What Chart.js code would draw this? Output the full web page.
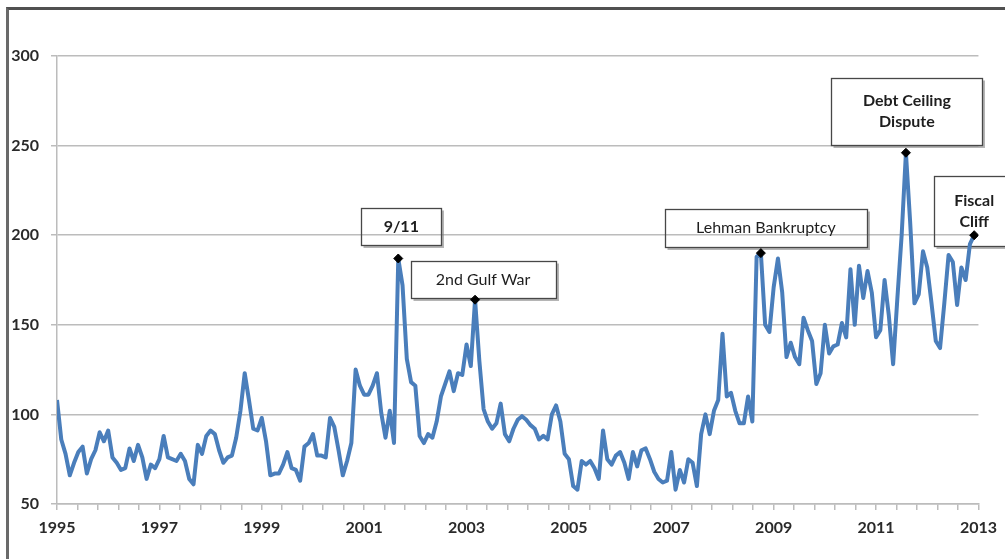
<!DOCTYPE html>
<html>
<head>
<meta charset="utf-8">
<script src="https://cdn.jsdelivr.net/npm/chart.js@4.4.1/dist/chart.umd.min.js"></script>
<style>
  html, body { margin: 0; padding: 0; background: #ffffff; }
  #wrap { position: relative; width: 1005px; height: 559px; overflow: hidden; }
  #frame {
    position: absolute; left: 6px; top: 7px; width: 1100px; height: 700px;
    border-top: 3px solid #505050; border-left: 3px solid #6a6a6a;
  }
  canvas { position: absolute; left: 0; top: 0; }
</style>
</head>
<body>
<div id="wrap">
  <div id="frame"></div>
  <canvas id="chart" width="1005" height="559"></canvas>
</div>
<script>
// Monthly index, January 1995 through December 2012
const startYear = 1995;
const index1995 = [108, 86, 78, 66, 73, 79, 82, 67, 75, 80, 90, 85];
const index1996 = [91, 76, 73, 69, 70, 81, 74, 83, 76, 64, 72, 70];
const index1997 = [75, 88, 76, 75, 74, 78, 74, 64, 61, 83, 78, 88];
const index1998 = [91, 89, 80, 73, 76, 77, 87, 102, 123, 108, 92, 91];
const index1999 = [98, 85, 66, 67, 67, 72, 79, 70, 69, 63, 82, 84];
const index2000 = [89, 77, 77, 76, 98, 93, 80, 66, 74, 84, 125, 116];
const index2001 = [111, 111, 116, 123, 101, 87, 102, 84, 187, 172, 131, 118];
const index2002 = [116, 88, 84, 89, 87, 96, 110, 117, 124, 113, 123, 122];
const index2003 = [139, 127, 164, 130, 103, 96, 92, 95, 106, 89, 85, 92];
const index2004 = [97, 99, 97, 94, 92, 86, 88, 86, 100, 105, 96, 78];
const index2005 = [75, 60, 58, 74, 72, 74, 70, 64, 91, 75, 72, 77];
const index2006 = [79, 73, 64, 79, 71, 80, 81, 75, 68, 64, 62, 63];
const index2007 = [79, 58, 69, 62, 75, 73, 60, 89, 100, 89, 102, 108];
const index2008 = [145, 110, 112, 102, 95, 95, 110, 96, 188, 190, 150, 146];
const index2009 = [171, 187, 168, 132, 140, 132, 128, 154, 147, 141, 117, 123];
const index2010 = [150, 134, 138, 139, 151, 143, 181, 150, 183, 165, 180, 168];
const index2011 = [143, 147, 175, 155, 128, 165, 200, 246, 207, 162, 167, 191];
const index2012 = [182, 162, 141, 137, 162, 189, 185, 161, 182, 175, 195, 200];

const values = [].concat(
  index1995, index1996, index1997, index1998, index1999, index2000,
  index2001, index2002, index2003, index2004, index2005, index2006,
  index2007, index2008, index2009, index2010, index2011, index2012
);

const yearLabels = ['1995', '1997', '1999', '2001', '2003', '2005', '2007', '2009', '2011', '2013'];
const yTicks = [50, 100, 150, 200, 250, 300];

// Events marked on the series: month index and label lines
const eventMonths = [80, 98, 165, 199, 215];
const eventLabels = [['9/11'], ['2nd Gulf War'], ['Lehman Bankruptcy'], ['Debt Ceiling', 'Dispute'], ['Fiscal', 'Cliff']];

// Callout box geometry relative to the marked point (pixels)
const calloutStyle = [
  { dx: 3,  dy: -32, w: 80,  h: 37, bold: true },
  { dx: 8,  dy: -20, w: 145, h: 37, bold: false },
  { dx: 5,  dy: -25, w: 202, h: 38, bold: false },
  { dx: 1,  dy: -41, w: 151, h: 67, bold: true },
  { dx: 0,  dy: -24, w: 80,  h: 70, bold: true }
];

const points = values.map((v, i) => ({ x: i, y: v }));
const pointRadii = values.map((v, i) => eventMonths.includes(i) ? 4.5 : 0);

const calloutPlugin = {
  id: 'callouts',
  beforeDatasetsDraw(chart) {
    const ctx = chart.ctx;
    const xs = chart.scales.x, ys = chart.scales.y;
    ctx.save();
    eventMonths.forEach((m, k) => {
      const st = calloutStyle[k];
      const px = xs.getPixelForValue(m);
      const py = ys.getPixelForValue(values[m]);
      const cx = px + st.dx, cy = py + st.dy;
      const x0 = Math.round(cx - st.w / 2) + 0.5, y0 = Math.round(cy - st.h / 2) + 0.5;
      // soft shadow on the lower right
      ctx.strokeStyle = 'rgba(120,120,120,0.55)';
      ctx.lineWidth = 2;
      ctx.beginPath();
      ctx.moveTo(x0 + 2, y0 + st.h + 1.5);
      ctx.lineTo(x0 + st.w + 1.5, y0 + st.h + 1.5);
      ctx.lineTo(x0 + st.w + 1.5, y0 + 2);
      ctx.stroke();
      ctx.strokeStyle = '#474747';
      ctx.lineWidth = 1.3;
      ctx.strokeRect(x0, y0, st.w, st.h);
      ctx.fillStyle = '#1e1e1e';
      ctx.font = (st.bold ? 'bold ' : '') + '16px Lato, "Open Sans", sans-serif';
      ctx.textAlign = 'center';
      ctx.textBaseline = 'middle';
      const lines = eventLabels[k];
      const lh = 21;
      lines.forEach((t, j) => {
        ctx.fillText(t, cx, cy + (j - (lines.length - 1) / 2) * lh);
      });
    });
    ctx.restore();
  }
};

const gridGrey = '#bcbcbc';
const tickFont = { family: 'Lato, "Open Sans", sans-serif', size: 16, weight: 'bold' };

new Chart(document.getElementById('chart'), {
  type: 'line',
  data: {
    datasets: [{
      data: points,
      borderColor: '#4a7ebb',
      borderWidth: 4,
      borderJoinStyle: 'round',
      tension: 0,
      pointStyle: 'rectRot',
      pointRadius: pointRadii,
      pointHoverRadius: pointRadii,
      pointBackgroundColor: '#000000',
      pointBorderColor: '#000000',
      pointBorderWidth: 1
    }]
  },
  options: {
    responsive: false,
    animation: false,
    events: [],
    layout: { padding: { left: 0, top: 56, right: 25, bottom: 0 } },
    plugins: { legend: { display: false }, tooltip: { enabled: false } },
    scales: {
      x: {
        type: 'linear',
        min: 0,
        max: 216,
        afterBuildTicks(scale) {
          const t = [];
          for (let k = 0; k <= 45; k++) t.push({ value: k * 4.8 });
          scale.ticks = t;
        },
        afterFit(scale) { scale.height = 55; },
        ticks: {
          autoSkip: false,
          maxRotation: 0,
          padding: 8,
          color: '#2a2a2a',
          font: tickFont,
          callback(value, index) {
            return index % 5 === 0 ? yearLabels[index / 5] : '';
          }
        },
        grid: { drawOnChartArea: false, drawTicks: true, tickLength: 6, color: gridGrey, lineWidth: 1.5 },
        border: { display: true, color: gridGrey, width: 1.5 }
      },
      y: {
        min: 50,
        max: 300,
        afterBuildTicks(scale) {
          scale.ticks = yTicks.map(v => ({ value: v }));
        },
        afterFit(scale) { scale.width = 57; },
        ticks: {
          padding: 12,
          color: '#2a2a2a',
          font: tickFont
        },
        grid: { drawTicks: true, tickLength: 6, color: gridGrey, lineWidth: 1.5 },
        border: { display: true, color: gridGrey, width: 1.5 }
      }
    }
  },
  plugins: [calloutPlugin]
});
</script>
</body>
</html>
